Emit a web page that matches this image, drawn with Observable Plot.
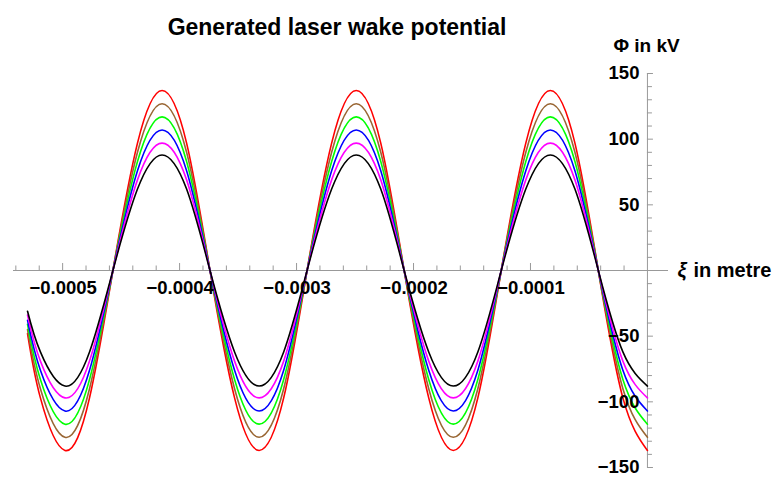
<!DOCTYPE html>
<html>
<head>
<meta charset="utf-8">
<script src="https://cdn.jsdelivr.net/npm/d3@7"></script>
<script src="https://cdn.jsdelivr.net/npm/@observablehq/plot@0.6"></script>
<style>
  html, body { margin: 0; padding: 0; background: #fff; }
  #chart { width: 783px; height: 477px; }
</style>
</head>
<body>
<div id="chart"></div>
<script>
// ξ positions (metres) at which the curves were read
const xi = [-0.000530, -0.000519, -0.000498, -0.000477, -0.000457, -0.000436, -0.000415, -0.000394, -0.000374,
            -0.000353, -0.000332, -0.000311, -0.000291, -0.000270, -0.000249, -0.000228, -0.000208, -0.000187,
            -0.000166, -0.000145, -0.000125, -0.000104, -0.000083, -0.000062, -0.000042, -0.000021, 0];

// Φ values (kV) for each curve
const phiS6 = [-48, -97, -137, -97, 0, 97, 137, 97, 0, -97, -137, -97, 0, 97, 137, 97, 0, -97, -137, -97, 0, 97, 137, 97, 0, -97, -137];
const phiS5 = [-45, -90, -127, -90, 0, 90, 127, 90, 0, -90, -127, -90, 0, 90, 127, 90, 0, -90, -127, -90, 0, 90, 127, 90, 0, -90, -127];
const phiS4 = [-41, -83, -117, -83, 0, 83, 117, 83, 0, -83, -117, -83, 0, 83, 117, 83, 0, -83, -117, -83, 0, 83, 117, 83, 0, -83, -117];
const phiS3 = [-38, -76, -107, -76, 0, 76, 107, 76, 0, -76, -107, -76, 0, 76, 107, 76, 0, -76, -107, -76, 0, 76, 107, 76, 0, -76, -107];
const phiS2 = [-34, -69, -97, -69, 0, 69, 97, 69, 0, -69, -97, -69, 0, 69, 97, 69, 0, -69, -97, -69, 0, 69, 97, 69, 0, -69, -97];
const phiS1 = [-31, -62, -88, -62, 0, 62, 88, 62, 0, -62, -88, -62, 0, 62, 88, 62, 0, -62, -88, -62, 0, 62, 88, 62, 0, -62, -88];

// drawn in this order (last on top)
const seriesNames  = ["S6", "S5", "S4", "S3", "S2", "S1"];
const seriesValues = [phiS6, phiS5, phiS4, phiS3, phiS2, phiS1];
const seriesColors = ["#ff0000", "#996633", "#00ff00", "#0000ff", "#ff00ff", "#000000"];

// tick values and labels
const xMajorTicks  = [-0.0005, -0.0004, -0.0003, -0.0002, -0.0001];
const xMajorLabels = ["\u22120.0005", "\u22120.0004", "\u22120.0003", "\u22120.0002", "\u22120.0001"];
const yMajorTicks  = [150, 100, 50, -50, -100, -150];
const yMajorLabels = ["150", "100", "50", "\u221250", "\u2212100", "\u2212150"];
const xMinorTicks  = d3.range(-27, 0).map(i => i * 0.00002).filter(v => !xMajorTicks.some(t => Math.abs(t - v) < 1e-9));
const yMinorTicks  = d3.range(-15, 16).map(i => i * 10).filter(v => v % 50 !== 0);

const titleText = "Generated laser wake potential";
const yLabel = "\u03A6 in kV";
const xLabelGreek = "\u03BE";
const xLabelRest = "in metre";

const rows = seriesNames.flatMap((name, s) => xi.map((x, i) => ({series: name, xi: x, phi: seriesValues[s][i]})));

const xMin = -0.000542, xMax = 0.000018;
const axisColor = "#999999";
const font = "'Liberation Sans', Arial, sans-serif";
const majX = 7 / 1.3133, minX = 4.5 / 1.3133;      // x-tick lengths in Φ units
const majY = 6 / 1169600, minY = 5 / 1169600;      // y-tick lengths in ξ units

const chart = Plot.plot({
  width: 783,
  height: 477,
  marginLeft: 13,
  marginRight: 115,
  marginTop: 73,
  marginBottom: 10,
  style: {fontFamily: font, background: "#fff", overflow: "visible"},
  x: {domain: [xMin, xMax], axis: null},
  y: {domain: [-150, 150], axis: null},
  color: {domain: seriesNames, range: seriesColors},
  marks: [
    // x axis
    Plot.ruleY([0], {x1: xMin, x2: xMax, stroke: axisColor, strokeWidth: 1}),
    Plot.ruleX(xMajorTicks, {x: d => d, y1: 0, y2: majX, stroke: axisColor}),
    Plot.ruleX(xMinorTicks, {x: d => d, y1: 0, y2: minX, stroke: axisColor}),
    // y axis
    Plot.ruleX([0], {y1: -150, y2: 150, stroke: axisColor, strokeWidth: 1}),
    Plot.ruleY(yMajorTicks, {y: d => d, x1: 0, x2: majY, stroke: axisColor}),
    Plot.ruleY(yMinorTicks, {y: d => d, x1: 0, x2: minY, stroke: axisColor}),
    // curves
    Plot.line(rows, {x: "xi", y: "phi", z: "series", stroke: "series", strokeWidth: 1.6, curve: "natural"}),
    // tick labels
    Plot.text(xMajorTicks, {x: d => d, y: 0, text: (d, i) => xMajorLabels[i], dy: 18, dx: 0.5, fontSize: 18.5, fontWeight: "bold", fill: "#000", textAnchor: "middle", letterSpacing: "1.5px"}),
    Plot.text(yMajorTicks, {x: 0, y: d => d, text: (d, i) => yMajorLabels[i], dx: -8, fontSize: 18.5, fontWeight: "bold", fill: "#000", textAnchor: "end", letterSpacing: "1px"}),
    // axis labels
    Plot.text([yLabel], {x: 0, y: 150, text: d => d, dx: -34, dy: -28, fontSize: 19, fontWeight: "bold", fill: "#000", textAnchor: "start", letterSpacing: "1.8px"}),
    Plot.text([xLabelGreek], {x: xMax, y: 0, text: d => d, dx: 9, fontSize: 20, fontWeight: "bold", fontStyle: "italic", fill: "#000", textAnchor: "start"}),
    Plot.text([xLabelRest], {x: xMax, y: 0, text: d => d, dx: 25, fontSize: 20, fontWeight: "bold", fill: "#000", textAnchor: "start"}),
    // title
    Plot.text([titleText], {frameAnchor: "top", text: d => d, dx: -4, dy: -55, fontSize: 23, fontWeight: "bold", fill: "#000", textAnchor: "middle", letterSpacing: "1.8px"})
  ]
});
document.getElementById("chart").appendChild(chart);
</script>
</body>
</html>
